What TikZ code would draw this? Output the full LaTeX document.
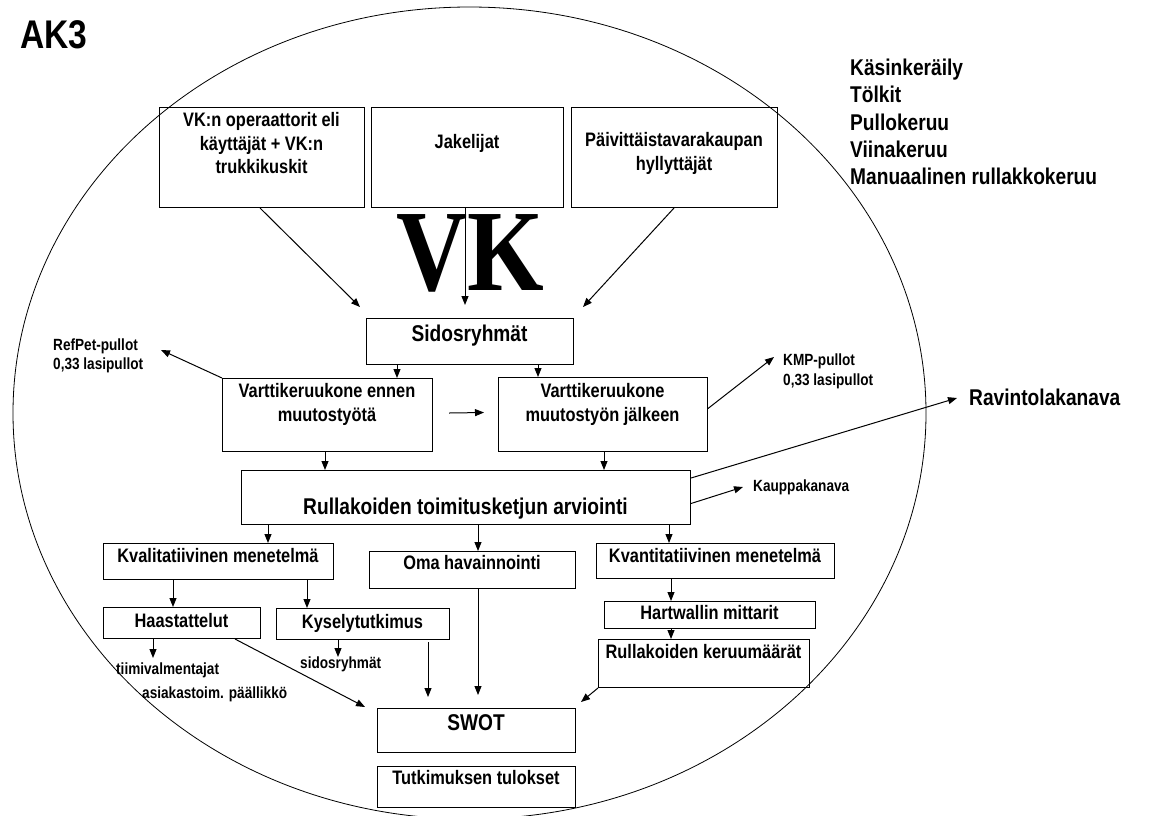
\documentclass[tikz,border=0pt]{standalone}
\usepackage{fontspec}
\setmainfont{Liberation Sans}[FakeStretch=0.84]
\newfontfamily\vkfont{Liberation Serif}[FakeStretch=0.85]
\usetikzlibrary{arrows.meta,calc}
\begin{document}
\begin{tikzpicture}[x=1pt,y=-1pt,
  box/.style={draw, line width=1pt, inner sep=0pt, anchor=north west},
  txt/.style={font=\fontsize{19.5}{23.5}\selectfont\bfseries, inner sep=0pt, align=center, anchor=base},
  big/.style={font=\fontsize{22.8}{27.2}\selectfont\bfseries, inner sep=0pt, align=left},
  small/.style={font=\fontsize{16.2}{19.5}\selectfont\bfseries, inner sep=0pt, align=left, anchor=base west},
  arr/.style={line width=1pt, -{Triangle[length=9pt,width=7pt]}}]

\fill[white] (0,0) rectangle (1158,815);
\useasboundingbox (0,0) rectangle (1158,815);

% outer ellipse
\draw[line width=0.8pt] (469.5,413) ellipse [x radius=456.5pt, y radius=406pt];

% title and list of collection types (multi-line nodes sit on their last baseline)
\node[big, font=\fontsize{40}{44}\selectfont\bfseries, anchor=base west] (title) at (20,48) {AK3};
\node[big, anchor=base west] (list) at (850,184.4) {Käsinkeräily\\Tölkit\\Pullokeruu\\Viinakeruu\\Manuaalinen rullakkokeruu};

% stakeholder boxes
\node[box, minimum width=205pt, minimum height=100pt] (b1) at (159,107) {};
\node[box, minimum width=192pt, minimum height=100pt] (b2) at (371,107) {};
\node[box, minimum width=206pt, minimum height=100pt] (b3) at (571,107) {};
\node[txt] (t1) at (261.5,173.5) {VK:n operaattorit eli\\käyttäjät + VK:n\\trukkikuskit};
\node[txt] (t2) at (467,148.5) {Jakelijat};
\node[txt] (t3) at (674,170) {Päivittäistavarakaupan\\hyllyttäjät};

% large VK letters
\node[inner sep=0pt, anchor=base, font=\vkfont\bfseries\fontsize{116}{116}\selectfont] (vk) at (470.5,290) {VK};

% Sidosryhmät
\node[box, minimum width=207pt, minimum height=46pt] (sidos) at (366,318) {};
\node[big, anchor=base] (tsidos) at (469.5,341) {Sidosryhmät};

% machine before / after
\node[box, minimum width=210pt, minimum height=73pt] (ennen) at (222,378) {};
\node[box, minimum width=209pt, minimum height=74pt] (jalkeen) at (498,377) {};
\node[txt] (tennen) at (327,421) {Varttikeruukone ennen\\muutostyötä};
\node[txt] (tjalkeen) at (602.5,421) {Varttikeruukone\\muutostyön jälkeen};

\node[small] (refpet) at (53,369.9) {RefPet-pullot\\0,33 lasipullot};
\node[small] (kmp) at (783,385) {KMP-pullot\\0,33 lasipullot};

% supply chain evaluation
\node[box, minimum width=449pt, minimum height=54pt] (rull) at (241,470) {};
\node[big, anchor=base] (trull) at (465.5,514.6) {Rullakoiden toimitusketjun arviointi};
\node[big, anchor=base west] (ravintola) at (969,405.6) {Ravintolakanava};
\node[small] (kauppa) at (753,491.4) {Kauppakanava};

% methods
\node[box, minimum width=230pt, minimum height=36pt] (kval) at (103,543) {};
\node[box, minimum width=206pt, minimum height=37pt] (oma) at (369,551) {};
\node[box, minimum width=238pt, minimum height=35pt] (kvant) at (596,543) {};
\node[txt] (tkval) at (218,562.5) {Kvalitatiivinen menetelmä};
\node[txt] (toma) at (472,569.5) {Oma havainnointi};
\node[txt] (tkvant) at (715,562.5) {Kvantitatiivinen menetelmä};

\node[box, minimum width=157pt, minimum height=31pt] (haast) at (103,607) {};
\node[box, minimum width=173pt, minimum height=31pt] (kysely) at (276,608) {};
\node[txt] (thaast) at (181.5,627.5) {Haastattelut};
\node[txt] (tkysely) at (362.5,628.5) {Kyselytutkimus};

\node[box, minimum width=211pt, minimum height=27pt] (hartw) at (604,601) {};
\node[box, minimum width=211pt, minimum height=48pt] (keruu) at (598,639) {};
\node[txt] (thartw) at (709.5,619.5) {Hartwallin mittarit};
\node[txt] (tkeruu) at (703.5,658.5) {Rullakoiden keruumäärät};

\node[small] (tiimi) at (116,674.4) {tiimivalmentajat};
\node[small] (asiakas) at (142,698.4) {asiakastoim. päällikkö};
\node[small] (sidos2) at (300,668.4) {sidosryhmät};

% results
\node[box, minimum width=198pt, minimum height=44pt] (swot) at (377,708) {};
\node[box, minimum width=198pt, minimum height=41pt] (tulos) at (377,766) {};
\node[big, anchor=base] (tswot) at (476,730.6) {SWOT};
\node[txt] (ttulos) at (476,784.5) {Tutkimuksen tulokset};

% free arrow ends
\coordinate (p1) at (360,307);
\coordinate (p2) at (465,305);
\coordinate (p3) at (583,307);
\coordinate (pref) at (161,350);
\coordinate (pkmp) at (774,357);
\coordinate (prav) at (957,398);
\coordinate (pkau) at (743,487);
\coordinate (ptiimi) at (153,658);
\coordinate (psid) at (338,657);
\coordinate (ph) at (365,707);
\coordinate (pk) at (428,697);
\coordinate (po) at (478,695);
\coordinate (pr) at (581,702);

% connectors
\draw[arr] ([xshift=101pt]b1.south west) -- (p1);
\draw[arr] ([xshift=94pt]b2.south west) -- (p2);
\draw[arr] ([xshift=103pt]b3.south west) -- (p3);

\draw[arr] ([xshift=31pt]sidos.south west) -- ([xshift=175pt]ennen.north west);
\draw[arr] ([xshift=172pt]sidos.south west) -- ([xshift=40pt]jalkeen.north west);
\draw[arr] ([xshift=16pt,yshift=2pt]ennen.east) -- ([xshift=-14pt,yshift=2pt]jalkeen.west);
\draw[arr] (ennen.north west) -- (pref);
\draw[arr] ([yshift=6pt]jalkeen.east) -- (pkmp);

\draw[arr] ([xshift=103pt]ennen.south west) -- ([xshift=84pt]rull.north west);
\draw[arr] ([xshift=106pt]jalkeen.south west) -- ([xshift=363pt]rull.north west);
\draw[arr] ([yshift=-8pt]rull.north east) -- (prav);
\draw[arr] ([yshift=-6pt]rull.east) -- (pkau);

\draw[arr] ([xshift=27pt]rull.south west) -- ([xshift=165pt]kval.north west);
\draw[arr] ([xshift=237pt]rull.south west) -- ([xshift=109pt]oma.north west);
\draw[arr] ([xshift=428pt]rull.south west) -- ([xshift=73pt]kvant.north west);

\draw[arr] ([xshift=70pt]kval.south west) -- ([xshift=70pt]haast.north west);
\draw[arr] ([xshift=204pt]kval.south west) -- ([xshift=31pt]kysely.north west);
\draw[arr] ([xshift=50pt]haast.south west) -- (ptiimi);
\draw[arr] ([xshift=62pt]kysely.south west) -- (psid);

\draw[arr] ([xshift=132pt]haast.south west) -- (ph);
\draw[arr] ([xshift=152pt,yshift=-2pt]kysely.south west) -- (pk);
\draw[arr] ([xshift=109pt]oma.south west) -- (po);

\draw[arr] ([xshift=75pt]kvant.south west) -- ([xshift=67pt]hartw.north west);
\draw[arr] ([xshift=67pt]hartw.south west) -- ([xshift=73pt]keruu.north west);
\draw[arr] (keruu.south west) -- (pr);
\end{tikzpicture}
\end{document}
